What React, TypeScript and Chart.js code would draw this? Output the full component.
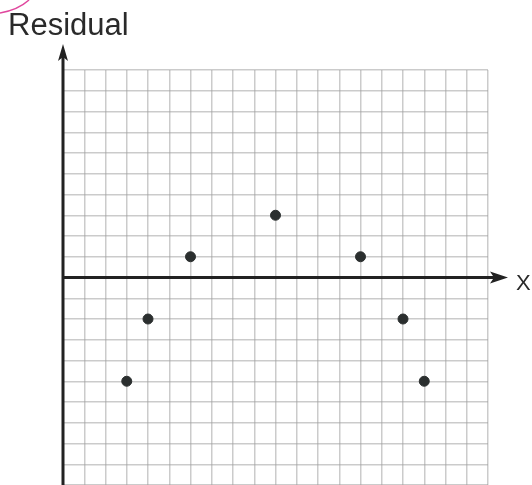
import React, { useEffect, useRef } from "react";
import { Chart, registerables } from "chart.js";

Chart.register(...registerables);

// Data (x in grid units, residual in grid units)
const xValues = [3, 4, 6, 10, 14, 16, 17];
const residuals = [-5, -2, 1, 3, 1, -2, -5];
const yAxisTitle = "Residual";
const xAxisTitle = "X";

const axesPlugin = {
  id: "residualAxes",
  beforeDatasetsDraw(chart: any) {
    const { ctx, scales } = chart;
    const xs = scales.x;
    const ys = scales.y;
    const x0 = xs.getPixelForValue(0);
    const y0 = ys.getPixelForValue(0);
    const top = ys.getPixelForValue(10);
    const bottom = ys.getPixelForValue(-10);
    const right = xs.getPixelForValue(20);
    ctx.save();
    ctx.strokeStyle = "#222";
    ctx.fillStyle = "#222";
    ctx.lineWidth = 3;
    // y axis
    ctx.beginPath();
    ctx.moveTo(x0, bottom + 2);
    ctx.lineTo(x0, top - 18);
    ctx.stroke();
    ctx.beginPath();
    ctx.moveTo(x0, top - 26);
    ctx.lineTo(x0 - 5, top - 9);
    ctx.lineTo(x0, top - 13);
    ctx.lineTo(x0 + 5, top - 9);
    ctx.closePath();
    ctx.fill();
    // x axis
    ctx.beginPath();
    ctx.moveTo(x0, y0);
    ctx.lineTo(right + 12, y0);
    ctx.stroke();
    ctx.beginPath();
    ctx.moveTo(right + 20, y0);
    ctx.lineTo(right + 2, y0 - 6);
    ctx.lineTo(right + 6, y0);
    ctx.lineTo(right + 2, y0 + 6);
    ctx.closePath();
    ctx.fill();
    ctx.restore();
  },
  afterDraw(chart: any) {
    const { ctx, scales } = chart;
    const xs = scales.x;
    const ys = scales.y;
    const y0 = ys.getPixelForValue(0);
    const right = xs.getPixelForValue(20);
    ctx.save();
    ctx.fillStyle = "#2a2a2a";
    ctx.textBaseline = "alphabetic";
    ctx.textAlign = "left";
    ctx.font = "31px 'Liberation Sans', Arial, sans-serif";
    ctx.fillText(yAxisTitle, 8, 35);
    ctx.font = "22px 'Liberation Sans', Arial, sans-serif";
    ctx.fillText(xAxisTitle, right + 28, y0 + 12);
    // stray pink pen mark in the corner
    ctx.strokeStyle = "#e0479e";
    ctx.lineWidth = 1.5;
    ctx.beginPath();
    ctx.moveTo(0, 13);
    ctx.quadraticCurveTo(18, 10, 29, 0);
    ctx.stroke();
    ctx.restore();
  },
};

export default function App() {
  const ref = useRef<HTMLCanvasElement>(null);
  useEffect(() => {
    if (!ref.current) return;
    const chart = new Chart(ref.current, {
      type: "scatter",
      data: {
        datasets: [
          {
            data: xValues.map((x, i) => ({ x, y: residuals[i] })),
            backgroundColor: "#2b2f2f",
            borderColor: "#2b2f2f",
            pointRadius: 5,
            pointHoverRadius: 5,
          },
        ],
      },
      options: {
        animation: false,
        responsive: false,
        events: [],
        layout: { padding: { left: 63, right: 44, top: 70, bottom: 0 } },
        plugins: { legend: { display: false }, tooltip: { enabled: false } },
        scales: {
          x: {
            type: "linear",
            min: 0,
            max: 20,
            ticks: { display: false, stepSize: 1 },
            grid: { color: "rgba(160,160,160,0.55)", lineWidth: 1.5, drawTicks: false },
            border: { display: false },
          },
          y: {
            type: "linear",
            min: -10,
            max: 10,
            ticks: { display: false, stepSize: 1 },
            grid: { color: "rgba(160,160,160,0.55)", lineWidth: 1.5, drawTicks: false },
            border: { display: false },
          },
        },
      },
      plugins: [axesPlugin],
    });
    return () => chart.destroy();
  }, []);
  return (
    <div style={{ position: "fixed", left: 0, top: 0, width: 532, height: 485, overflow: "hidden", background: "#fff" }}>
      <canvas ref={ref} width={532} height={491} style={{ display: "block" }} />
    </div>
  );
}
